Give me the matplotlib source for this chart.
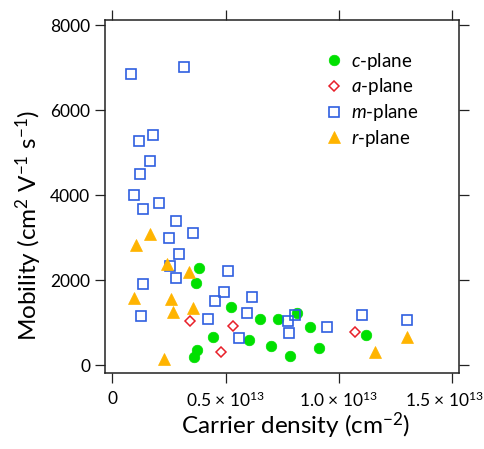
import matplotlib
matplotlib.use("Agg")
import matplotlib.pyplot as plt
from matplotlib.transforms import ScaledTranslation

plt.rcParams['font.family'] = ['Lato', 'DejaVu Sans']
plt.rcParams['mathtext.fontset'] = 'custom'
plt.rcParams['mathtext.rm'] = 'Lato'
plt.rcParams['mathtext.it'] = 'Lato:italic'
plt.rcParams['mathtext.default'] = 'regular'

# carrier density in units of 1e13 cm^-2, mobility in cm^2 V^-1 s^-1
c_x = [0.382, 0.369, 0.524, 0.443, 0.374, 0.362, 0.604, 0.652, 0.731, 0.813,
       0.699, 0.785, 0.871, 0.910, 1.120]
c_y = [2297, 1944, 1379, 659, 367, 188, 588, 1082, 1097, 1224,
       454, 226, 908, 407, 720]

a_x = [0.343, 0.532, 0.478, 1.069]
a_y = [1042, 932, 320, 784]

m_x = [0.082, 0.318, 0.119, 0.181, 0.166, 0.122, 0.096, 0.207, 0.137, 0.281,
       0.357, 0.250, 0.293, 0.253, 0.280, 0.134, 0.510, 0.494, 0.452, 0.618,
       0.596, 0.423, 0.128, 0.560, 0.776, 0.806, 0.778, 0.948, 1.100, 1.300]
m_y = [6854, 7012, 5285, 5419, 4807, 4494, 4007, 3826, 3671, 3402,
       3120, 3002, 2619, 2344, 2061, 1906, 2219, 1718, 1506, 1607,
       1238, 1082, 1167, 649, 1042, 1184, 760, 894, 1184, 1073]

r_x = [0.168, 0.105, 0.241, 0.337, 0.096, 0.259, 0.266, 0.355, 0.229, 1.160, 1.300]
r_y = [3090, 2831, 2384, 2188, 1584, 1553, 1254, 1355, 155, 313, 659]

x_ticks = [0, 0.5, 1.0, 1.5]
x_tick_labels = ['0', r'0.5 $\times$ 10$^{13}$', r'1.0 $\times$ 10$^{13}$', r'1.5 $\times$ 10$^{13}$']
y_ticks = [0, 2000, 4000, 6000, 8000]

green = '#00E000'
red = '#E8202A'
blue = '#2F5FE0'
orange = '#FFB400'

fig = plt.figure(figsize=(4.84, 4.49), dpi=100)
ax = fig.add_axes([0.2169, 0.1693, 0.7314, 0.7862])

ax.plot(c_x, c_y, 'o', ls='none', ms=7.6, mfc=green, mec=green, mew=0.5, label=r'$\it{c}$-plane')
ax.plot(a_x, a_y, 'D', ls='none', ms=5.6, mfc='none', mec=red, mew=1.1, label=r'$\it{a}$-plane')
ax.plot(m_x, m_y, 's', ls='none', ms=6.6, mfc='none', mec=blue, mew=1.2, label=r'$\it{m}$-plane')
ax.plot(r_x, r_y, '^', ls='none', ms=8.0, mfc=orange, mec=orange, mew=0.5, label=r'$\it{r}$-plane')

ax.set_xlim(-0.0322, 1.5293)
ax.set_ylim(-181, 8125)
ax.set_xticks(x_ticks)
ax.set_xticklabels(x_tick_labels)
ax.set_yticks(y_ticks)

for s in ax.spines.values():
    s.set_color('#222222')
    s.set_linewidth(1.1)

ax.tick_params(axis='both', which='both', direction='out', length=7, width=0.9,
               color='#222222', labelsize=12.5, top=True, right=True,
               labeltop=False, labelright=False)
ax.tick_params(axis='x', pad=6)
ax.tick_params(axis='y', pad=3.5)

# last x tick label nudged left so it stays inside the figure
last = ax.xaxis.get_major_ticks()[-1].label1
last.set_transform(last.get_transform() + ScaledTranslation(-0.08, 0, fig.dpi_scale_trans))

ax.set_xlabel(r'Carrier density (cm$^{-2}$)', fontsize=17.5, va='center')
ax.xaxis.set_label_coords(0.537, -0.150)
ax.set_ylabel(r'Mobility (cm$^{2}$ V$^{-1}$ s$^{-1}$)', fontsize=17.5, va='center')
ax.yaxis.set_label_coords(-0.215, 0.419)

leg = ax.legend(loc='upper left', bbox_to_anchor=(0.625, 0.913), frameon=False,
                fontsize=13.5, handlelength=0.8, handletextpad=0.5,
                labelspacing=0.25, borderaxespad=0, borderpad=0)

fig.savefig('out.png', dpi=100)
